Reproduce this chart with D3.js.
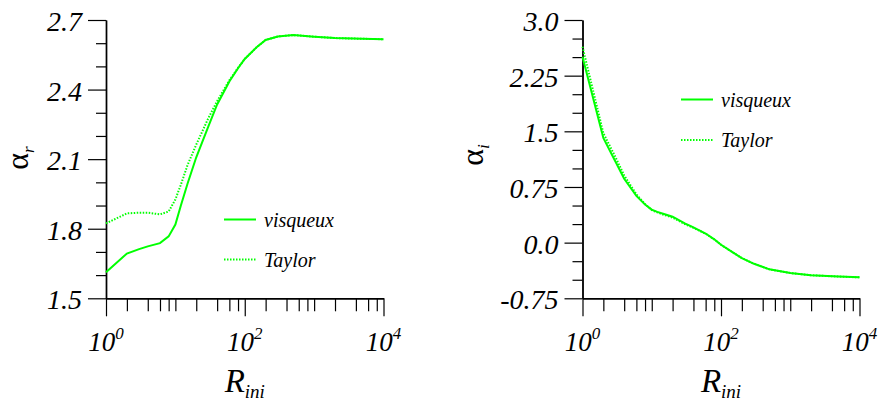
<!DOCTYPE html>
<html>
<head>
<meta charset="utf-8">
<script src="https://cdn.jsdelivr.net/npm/d3@7"></script>
<style>
  html, body { margin: 0; padding: 0; background: #fff; }
  svg { display: block; }
</style>
</head>
<body>
<svg id="chart" width="879" height="401"></svg>
<script>
// ---- data ----
const rValues = [1, 2, 3, 4, 6, 8, 10, 12, 15, 20, 30, 40, 60, 80, 100, 150, 200, 300, 500, 1000, 2000, 5000, 10000];

// left panel: alpha_r
const alphaRVisqueux = [1.612, 1.693, 1.712, 1.724, 1.738, 1.767, 1.818, 1.900, 1.995, 2.108, 2.242, 2.336, 2.435, 2.492, 2.532, 2.584, 2.614, 2.629, 2.635, 2.628, 2.622, 2.619, 2.617];
const alphaRTaylor   = [1.823, 1.866, 1.869, 1.869, 1.862, 1.874, 1.926, 1.990, 2.075, 2.163, 2.278, 2.350, 2.440, 2.494, 2.532, 2.584, 2.614, 2.629, 2.635, 2.628, 2.622, 2.619, 2.617];

// right panel: alpha_i
const alphaIVisqueux = [2.506, 1.410, 1.090, 0.860, 0.630, 0.514, 0.445, 0.415, 0.385, 0.349, 0.260, 0.205, 0.123, 0.045, -0.028, -0.135, -0.208, -0.285, -0.360, -0.410, -0.440, -0.457, -0.468];
const alphaITaylor   = [2.641, 1.475, 1.150, 0.905, 0.650, 0.520, 0.438, 0.408, 0.375, 0.338, 0.250, 0.200, 0.120, 0.043, -0.028, -0.135, -0.208, -0.285, -0.360, -0.410, -0.440, -0.457, -0.468];

const seriesNames = ["visqueux", "Taylor"];

// axis ticks
const xMajorTicks = [1, 100, 10000];
const xMajorExponents = ["0", "2", "4"];
const xMinorTicks = [2, 4, 6, 8, 10, 20, 40, 60, 80, 200, 400, 600, 800, 1000, 2000, 4000, 6000, 8000];

const leftYDomain = [1.5, 2.7];
const leftYMajor = [1.5, 1.8, 2.1, 2.4, 2.7];
const leftYMajorLabels = ["1.5", "1.8", "2.1", "2.4", "2.7"];
const leftYMinor = [1.6, 1.7, 1.9, 2.0, 2.2, 2.3, 2.5, 2.6];

const rightYDomain = [-0.75, 3.0];
const rightYMajor = [-0.75, 0, 0.75, 1.5, 2.25, 3.0];
const rightYMajorLabels = ["-0.75", "0.0", "0.75", "1.5", "2.25", "3.0"];
const rightYMinor = [-0.5, -0.25, 0.25, 0.5, 1.0, 1.25, 1.75, 2.0, 2.5, 2.75];

const GREEN = "#00ff00";
const svg = d3.select("#chart");

function drawPanel(cfg) {
  const x = d3.scaleLog().domain([1, 10000]).range([cfg.x0, cfg.x1]);
  const y = d3.scaleLinear().domain(cfg.yDomain).range([cfg.yBottom, cfg.yTop]);
  const g = svg.append("g");

  const xMinor = g.append("g").attr("transform", `translate(0,${cfg.yBottom})`)
    .call(d3.axisBottom(x).tickValues(xMinorTicks).tickSize(13).tickSizeOuter(0).tickFormat(""));
  const xMaj = g.append("g").attr("transform", `translate(0,${cfg.yBottom})`)
    .call(d3.axisBottom(x).tickValues(xMajorTicks).tickSize(18).tickSizeOuter(0).tickFormat(""));
  const yMin = g.append("g").attr("transform", `translate(${cfg.x0},0)`)
    .call(d3.axisLeft(y).tickValues(cfg.yMinor).tickSize(10).tickSizeOuter(0).tickFormat(""));
  const yMaj = g.append("g").attr("transform", `translate(${cfg.x0},0)`)
    .call(d3.axisLeft(y).tickValues(cfg.yMajor).tickSize(18).tickSizeOuter(0).tickPadding(6)
      .tickFormat((d, i) => cfg.yLabels[i]));

  [xMinor, xMaj, yMin, yMaj].forEach(a => {
    a.attr("font-family", null).attr("font-size", null);
    a.selectAll("path.domain").attr("stroke", "#000").attr("stroke-width", 1.4);
    a.selectAll(".tick line").attr("stroke", "#000").attr("stroke-width", 1.2);
  });
  yMaj.selectAll(".tick text")
    .attr("font-size", 28).attr("fill", "#000").attr("dy", "0.38em");

  xMajorTicks.forEach((v, i) => {
    const t = g.append("text").attr("x", x(v)).attr("y", cfg.yBottom + 53)
      .attr("text-anchor", "middle");
    t.append("tspan").attr("font-size", 27).text("10");
    t.append("tspan").attr("font-size", 17).attr("dy", -12).text(xMajorExponents[i]);
  });

  const xt = g.append("text").attr("x", (cfg.x0 + cfg.x1) / 2).attr("y", 392)
    .attr("text-anchor", "middle");
  xt.append("tspan").attr("font-size", 33).text("R");
  xt.append("tspan").attr("font-size", 19).attr("dy", 6).text("ini");

  const yt = g.append("text").attr("class", "ytitle")
    .attr("transform", `translate(${cfg.yTitleX},${cfg.yTitleY}) rotate(-90)`)
    .attr("text-anchor", "middle");
  yt.append("tspan").attr("font-size", 32).attr("class", "alpha").text("α");
  yt.append("tspan").attr("font-size", 17).attr("dy", 6).text(cfg.ySub);

  const line = d3.line().x((d, i) => x(rValues[i])).y(d => y(d));
  g.append("path").datum(cfg.visqueux).attr("d", line)
    .attr("fill", "none").attr("stroke", GREEN).attr("stroke-width", 2);
  g.append("path").datum(cfg.taylor).attr("d", line)
    .attr("fill", "none").attr("stroke", GREEN).attr("stroke-width", 2)
    .attr("stroke-dasharray", "1.5,1.5");

  cfg.legendY.forEach((ly, i) => {
    g.append("line").attr("x1", cfg.legendX).attr("x2", cfg.legendX + 32)
      .attr("y1", ly).attr("y2", ly)
      .attr("stroke", GREEN).attr("stroke-width", 2)
      .attr("stroke-dasharray", i === 0 ? null : "1.5,1.5");
    g.append("text").attr("x", cfg.legendX + 40).attr("y", ly + 7)
      .attr("font-size", 20).text(seriesNames[i]);
  });
}

drawPanel({
  x0: 106, x1: 383.5, yTop: 20, yBottom: 298.3,
  yDomain: leftYDomain, yMajor: leftYMajor, yLabels: leftYMajorLabels, yMinor: leftYMinor,
  visqueux: alphaRVisqueux, taylor: alphaRTaylor,
  yTitleX: 28, yTitleY: 158, ySub: "r",
  legendX: 224, legendY: [219.5, 259.5]
});

drawPanel({
  x0: 582.5, x1: 859.5, yTop: 20, yBottom: 298.3,
  yDomain: rightYDomain, yMajor: rightYMajor, yLabels: rightYMajorLabels, yMinor: rightYMinor,
  visqueux: alphaIVisqueux, taylor: alphaITaylor,
  yTitleX: 483, yTitleY: 155, ySub: "i",
  legendX: 681, legendY: [99.5, 140]
});

// font styling applied inline to every text element
svg.selectAll("text")
  .style("font-family", "'Liberation Serif'")
  .style("font-style", "italic")
  .attr("fill", "#000");
svg.selectAll("tspan.alpha").style("font-style", "normal");
</script>
</body>
</html>
